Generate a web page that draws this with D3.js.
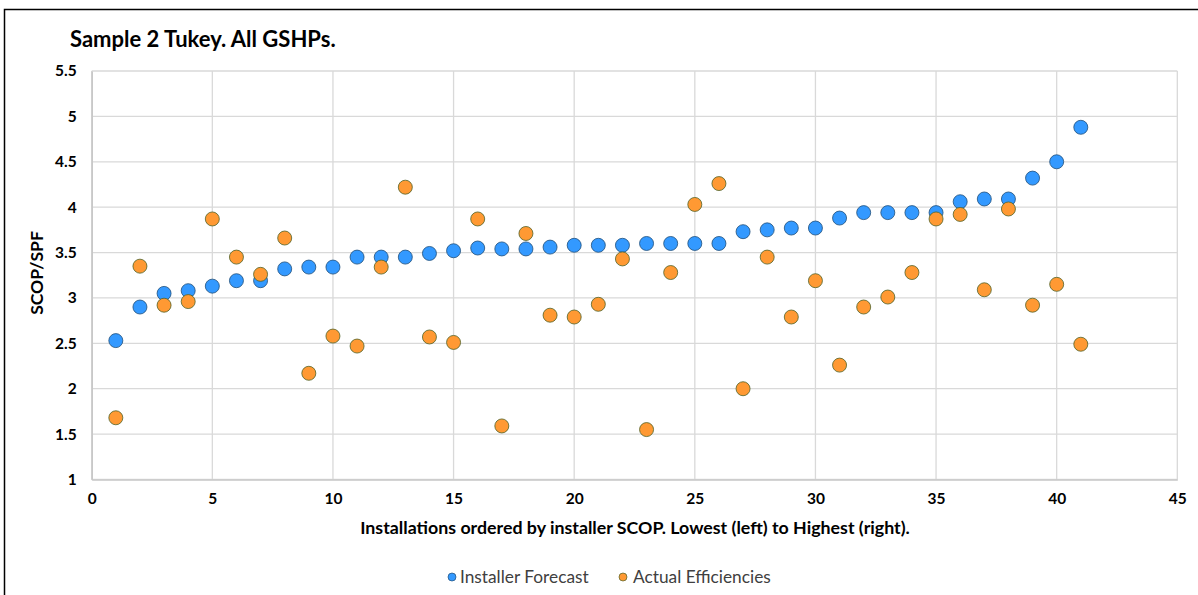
<!DOCTYPE html>
<html>
<head>
<meta charset="utf-8">
<script src="https://cdn.jsdelivr.net/npm/d3@7"></script>
<style>
  html, body { margin: 0; padding: 0; background: #fff; }
  svg { display: block; font-family: Lato, "Open Sans", sans-serif; }
</style>
</head>
<body>
<svg id="chart" width="1198" height="595"></svg>
<script>
// Installation index (ordered by installer SCOP)
const installations = d3.range(1, 42);

// Installer forecast SCOP per installation
const installerForecast = [
  2.53, 2.90, 3.05, 3.08, 3.13, 3.19, 3.19, 3.32, 3.34, 3.34,
  3.45, 3.45, 3.45, 3.49, 3.52, 3.55, 3.54, 3.54, 3.56, 3.58,
  3.58, 3.58, 3.60, 3.60, 3.60, 3.60, 3.73, 3.75, 3.77, 3.77,
  3.88, 3.94, 3.94, 3.94, 3.94, 4.06, 4.09, 4.09, 4.32, 4.50,
  4.88
];

// Measured seasonal performance factor per installation
const actualEfficiencies = [
  1.68, 3.35, 2.92, 2.96, 3.87, 3.45, 3.26, 3.66, 2.17, 2.58,
  2.47, 3.34, 4.22, 2.57, 2.51, 3.87, 1.59, 3.71, 2.81, 2.79,
  2.93, 3.43, 1.55, 3.28, 4.03, 4.26, 2.00, 3.45, 2.79, 3.19,
  2.26, 2.90, 3.01, 3.28, 3.87, 3.92, 3.09, 3.98, 2.92, 3.15,
  2.49
];

const xTicks = [0, 5, 10, 15, 20, 25, 30, 35, 40, 45];
const yTicks = [1, 1.5, 2, 2.5, 3, 3.5, 4, 4.5, 5, 5.5];

const seriesNames = ["Installer Forecast", "Actual Efficiencies"];
const seriesFill = ["#3399ff", "#ff9933"];
const seriesStroke = ["#1f4e79", "#4f6228"];

const svg = d3.select("#chart");

// outer chart frame (top and left edges visible)
svg.append("path")
  .attr("d", "M4.5,595 L4.5,9.5 L1198,9.5")
  .attr("fill", "none")
  .attr("stroke", "#000")
  .attr("stroke-width", 1.5);

const plot = { left: 91.7, right: 1177.3, top: 71, bottom: 479.5 };

const x = d3.scaleLinear().domain([0, 45]).range([plot.left, plot.right]);
const y = d3.scaleLinear().domain([1, 5.5]).range([plot.bottom, plot.top]);

// gridlines
const grid = svg.append("g");
grid.selectAll("line.h").data(yTicks).join("line")
  .attr("class", "h")
  .attr("x1", plot.left).attr("x2", plot.right)
  .attr("y1", d => y(d)).attr("y2", d => y(d))
  .attr("stroke", "#d9d9d9").attr("stroke-width", 1.3);
grid.selectAll("line.v").data(xTicks).join("line")
  .attr("class", "v")
  .attr("x1", d => x(d)).attr("x2", d => x(d))
  .attr("y1", plot.top).attr("y2", plot.bottom)
  .attr("stroke", "#d9d9d9").attr("stroke-width", 1.3);

// axes
const xAxis = d3.axisBottom(x).tickValues(xTicks).tickSize(0).tickPadding(13).tickFormat(d3.format("d"));
const yAxis = d3.axisLeft(y).tickValues(yTicks).tickSize(0).tickPadding(15).tickFormat(d => String(d));

const gx = svg.append("g").attr("transform", `translate(0,${plot.bottom})`).call(xAxis);
const gy = svg.append("g").attr("transform", `translate(${plot.left},0)`).call(yAxis);

[gx, gy].forEach(g => {
  g.select(".domain").attr("stroke", "#c8c8c8").attr("stroke-width", 1.6);
  g.selectAll("text")
    .attr("font-family", "Lato, sans-serif")
    .attr("font-size", 15.5)
    .attr("font-weight", "bold")
    .attr("fill", "#000");
});

// title
svg.append("text")
  .attr("x", 70).attr("y", 47)
  .attr("font-size", 22).attr("font-weight", "bold")
  .attr("fill", "#000")
  .text("Sample 2 Tukey. All GSHPs.");

// axis titles
svg.append("text")
  .attr("x", 635).attr("y", 534)
  .attr("text-anchor", "middle")
  .attr("font-size", 17.8).attr("font-weight", "bold")
  .attr("fill", "#000")
  .text("Installations ordered by installer SCOP. Lowest (left) to Highest (right).");

svg.append("text")
  .attr("transform", "translate(43,273) rotate(-90)")
  .attr("text-anchor", "middle")
  .attr("font-size", 17.5).attr("font-weight", "bold")
  .attr("fill", "#000")
  .text("SCOP/SPF");

// markers
const series = [installerForecast, actualEfficiencies];
series.forEach((vals, i) => {
  svg.append("g").selectAll("circle")
    .data(installations.map((n, k) => ({ n, v: vals[k] })))
    .join("circle")
    .attr("cx", d => x(d.n))
    .attr("cy", d => y(d.v))
    .attr("r", 7)
    .attr("fill", seriesFill[i])
    .attr("stroke", seriesStroke[i])
    .attr("stroke-width", 0.8);
});

// legend
const legendItems = [
  { cx: 452, tx: 460 },
  { cx: 623, tx: 633 }
];
const legend = svg.append("g");
legendItems.forEach((it, i) => {
  legend.append("circle")
    .attr("cx", it.cx).attr("cy", 577).attr("r", 4)
    .attr("fill", seriesFill[i]).attr("stroke", seriesStroke[i]).attr("stroke-width", 0.7);
  legend.append("text")
    .attr("x", it.tx).attr("y", 583)
    .attr("font-size", 17.3).attr("fill", "#404040")
    .text(seriesNames[i]);
});
</script>
</body>
</html>
